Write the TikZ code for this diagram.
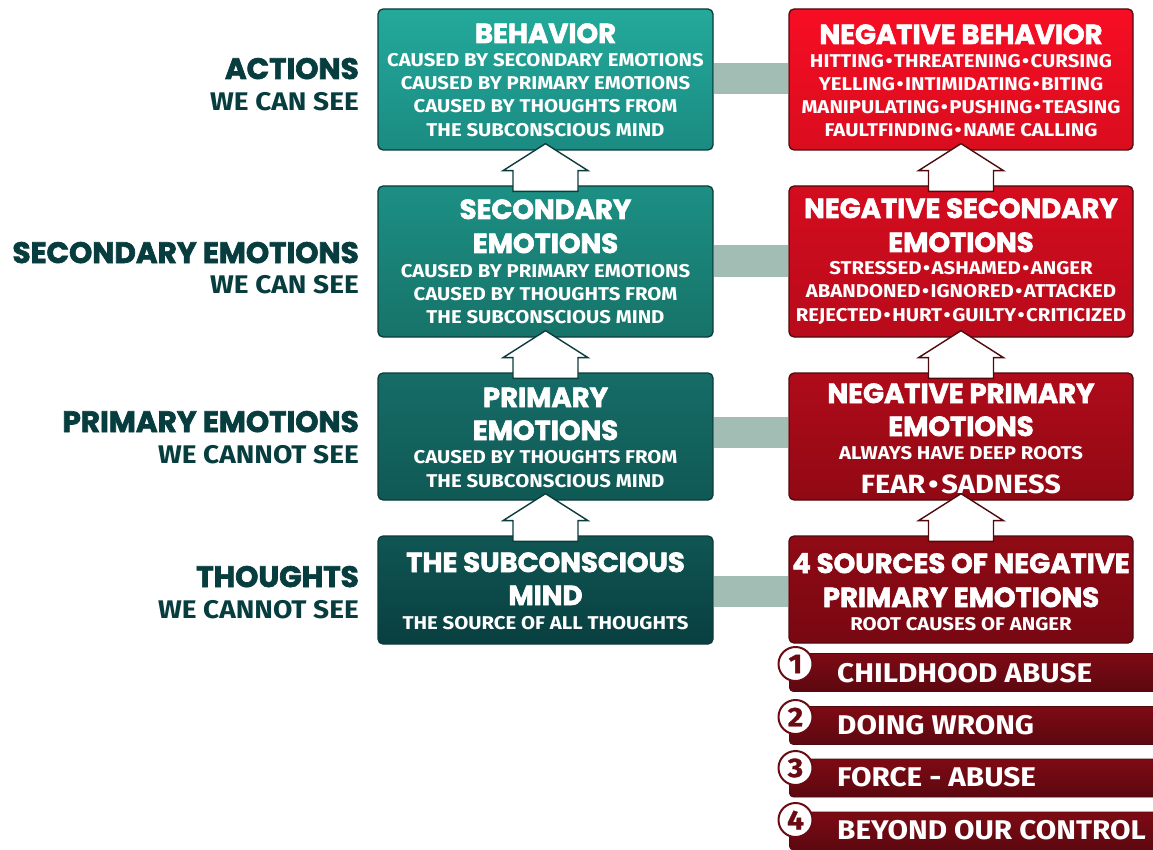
\documentclass[tikz,border=0pt]{standalone}
\usepackage{fontspec}
\usetikzlibrary{calc}
\newfontfamily\heavy{Poppins}[FakeBold=2.3]
\newfontfamily\subf{Fira Sans}[FakeStretch=1.1]
\newfontfamily\numf{Fira Sans}[FakeStretch=1.1, FakeBold=1.2]
\definecolor{labc}{HTML}{073D3E}
\definecolor{tborder}{HTML}{0B3B3C}
\definecolor{rborder}{HTML}{4F0A0E}
\definecolor{barc}{HTML}{A2BEB4}
\definecolor{numc}{HTML}{6A0A12}
\definecolor{lbt}{HTML}{7E0A14}
\definecolor{lbb}{HTML}{5C0810}
\tikzset{
  box/.style={rounded corners=5pt, line width=1.3pt, inner sep=0pt},
  tbox/.style={box, draw=tborder},
  rbox/.style={box, draw=rborder},
  ttl/.style={font=\heavy\bfseries\fontsize{27.5}{27.5}\selectfont, text=white, anchor=base, inner sep=0pt},
  sub/.style={font=\subf\bfseries\fontsize{18.5}{18.5}\selectfont, text=white, anchor=base, inner sep=0pt},
  lblH/.style={font=\heavy\bfseries\fontsize{29.5}{29.5}\selectfont, text=labc, anchor=base east, inner sep=0pt},
  lblS/.style={font=\subf\bfseries\fontsize{25.5}{25.5}\selectfont, text=labc, anchor=base east, inner sep=0pt},
  link/.style={draw=barc, line width=31pt},
  itembar/.style={rounded corners=4pt, draw=rborder, line width=0.8pt, top color=lbt, bottom color=lbb, minimum height=38pt, minimum width=372pt, anchor=west, inner sep=0pt},
  itemtxt/.style={font=\subf\bfseries\fontsize{27}{27}\selectfont, text=white, anchor=base west, inner sep=0pt},
  numcirc/.style={circle, fill=white, draw=numc, line width=2pt, minimum size=34pt, inner sep=0pt, font=\numf\bfseries\fontsize{27}{27}\selectfont, text=numc},
}
\newcommand\bul{\hspace{1.5pt}\textbullet\hspace{1.5pt}}
\newcommand\uparr[3]{%
  \draw[draw=#3, line width=1.4pt, fill=white, line join=miter]
   ($(#1.south)+(0,-7)$) -- ($(#1.south)+(42.5,20)$) -- ($(#1.south)+(32.5,20)$)
   -- ($(#2.north)+(32.5,6)$) -- ($(#2.north)+(-32.5,6)$)
   -- ($(#1.south)+(-32.5,20)$) -- ($(#1.south)+(-42.5,20)$) -- cycle;}
\begin{document}
\begin{tikzpicture}[x=1pt, y=-1pt]
\useasboundingbox[fill=white] (0,0) rectangle (1153,850);

% left column boxes
\node[tbox, top color={rgb,255:red,35;green,169;blue,154}, bottom color={rgb,255:red,27;green,139;blue,130}, minimum width=335pt, minimum height=141pt] (beh) at (545.5,79.5) {};
\node[tbox, top color={rgb,255:red,28;green,143;blue,132}, bottom color={rgb,255:red,23;green,115;blue,105}, minimum width=335pt, minimum height=151pt] (sec) at (545.5,261.5) {};
\node[tbox, top color={rgb,255:red,22;green,108;blue,103}, bottom color={rgb,255:red,16;green,89;blue,85}, minimum width=335pt, minimum height=127pt] (pri) at (545.5,436.5) {};
\node[tbox, top color={rgb,255:red,15;green,86;blue,83}, bottom color={rgb,255:red,9;green,63;blue,64}, minimum width=335pt, minimum height=108pt] (scm) at (545.5,590) {};

% right column boxes
\node[rbox, top color={rgb,255:red,247;green,13;blue,36}, bottom color={rgb,255:red,217;green,13;blue,30}, minimum width=344pt, minimum height=141pt] (nbeh) at (961,79.5) {};
\node[rbox, top color={rgb,255:red,212;green,12;blue,30}, bottom color={rgb,255:red,184;green,11;blue,27}, minimum width=344pt, minimum height=151pt] (nsec) at (961,261.5) {};
\node[rbox, top color={rgb,255:red,176;green,11;blue,26}, bottom color={rgb,255:red,144;green,9;blue,20}, minimum width=344pt, minimum height=127pt] (npri) at (961,436.5) {};
\node[rbox, top color={rgb,255:red,144;green,10;blue,21}, bottom color={rgb,255:red,120;green,8;blue,18}, minimum width=344pt, minimum height=107pt] (src) at (961,589.5) {};

% connectors
\draw[link] (beh.east |- 0,78.5) -- (nbeh.west |- 0,78.5);
\draw[link] (sec.east |- 0,261) -- (nsec.west |- 0,261);
\draw[link] (pri.east |- 0,432) -- (npri.west |- 0,432);
\draw[link] (scm.east |- 0,591) -- (src.west |- 0,591);

% arrows
\uparr{beh}{sec}{tborder}
\uparr{sec}{pri}{tborder}
\uparr{pri}{scm}{tborder}
\uparr{nbeh}{nsec}{rborder}
\uparr{nsec}{npri}{rborder}
\uparr{npri}{src}{rborder}

% left box texts
\node[ttl] (behT) at (545.5,43) {BEHAVIOR};
\node[sub] (behS1) at (545.5,67) {CAUSED BY SECONDARY EMOTIONS};
\node[sub] (behS2) at (545.5,90) {CAUSED BY PRIMARY EMOTIONS};
\node[sub] (behS3) at (545.5,113) {CAUSED BY THOUGHTS FROM};
\node[sub] (behS4) at (545.5,136.5) {THE SUBCONSCIOUS MIND};

\node[ttl] (secT1) at (545.5,219) {SECONDARY};
\node[ttl] (secT2) at (545.5,253) {EMOTIONS};
\node[sub] (secS1) at (545.5,277) {CAUSED BY PRIMARY EMOTIONS};
\node[sub] (secS2) at (545.5,300) {CAUSED BY THOUGHTS FROM};
\node[sub] (secS3) at (545.5,323) {THE SUBCONSCIOUS MIND};

\node[ttl] (priT1) at (545.5,407) {PRIMARY};
\node[ttl] (priT2) at (545.5,440) {EMOTIONS};
\node[sub] (priS1) at (545.5,463.5) {CAUSED BY THOUGHTS FROM};
\node[sub] (priS2) at (545.5,487) {THE SUBCONSCIOUS MIND};

\node[ttl] (scmT1) at (545.5,572) {THE SUBCONSCIOUS};
\node[ttl] (scmT2) at (545.5,605) {MIND};
\node[sub] (scmS1) at (545.5,629) {THE SOURCE OF ALL THOUGHTS};

% right box texts
\node[ttl] (nbehT) at (961,44) {NEGATIVE BEHAVIOR};
\node[sub] (nbehS1) at (961,68) {HITTING\bul THREATENING\bul CURSING};
\node[sub] (nbehS2) at (961,91) {YELLING\bul INTIMIDATING\bul BITING};
\node[sub] (nbehS3) at (961,114) {MANIPULATING\bul PUSHING\bul TEASING};
\node[sub] (nbehS4) at (961,137) {FAULTFINDING\bul NAME CALLING};

\node[ttl] (nsecT1) at (961,218) {NEGATIVE SECONDARY};
\node[ttl] (nsecT2) at (961,252) {EMOTIONS};
\node[sub] (nsecS1) at (961,275) {STRESSED\bul ASHAMED\bul ANGER};
\node[sub] (nsecS2) at (961,298) {ABANDONED\bul IGNORED\bul ATTACKED};
\node[sub] (nsecS3) at (961,321) {REJECTED\bul HURT\bul GUILTY\bul CRITICIZED};

\node[ttl] (npriT1) at (961,403) {NEGATIVE PRIMARY};
\node[ttl] (npriT2) at (961,436) {EMOTIONS};
\node[sub] (npriS1) at (961,459) {ALWAYS HAVE DEEP ROOTS};
\node[sub, font=\subf\bfseries\fontsize{26.4}{26.4}\selectfont] (npriS2) at (961,493) {FEAR\hspace{3pt}\textbullet\hspace{3pt}SADNESS};

\node[ttl] (srcT1) at (961,573) {4 SOURCES OF NEGATIVE};
\node[ttl] (srcT2) at (961,607) {PRIMARY EMOTIONS};
\node[sub] (srcS1) at (961,630) {ROOT CAUSES OF ANGER};

% list items
\node[itembar] (it1) at (789,672.5) {};
\node[itembar] (it2) at (789,725.5) {};
\node[itembar] (it3) at (789,778) {};
\node[itembar] (it4) at (789,831) {};
\node[itemtxt] (it1t) at (837,682) {CHILDHOOD ABUSE};
\node[itemtxt] (it2t) at (837,734) {DOING WRONG};
\node[itemtxt] (it3t) at (837,786) {FORCE - ABUSE};
\node[itemtxt] (it4t) at (837,839) {BEYOND OUR CONTROL};
\node[numcirc] (n1) at (795.5,664) {1};
\node[numcirc] (n2) at (795.5,717) {2};
\node[numcirc] (n3) at (795.5,768) {3};
\node[numcirc] (n4) at (795.5,820) {4};

% left labels
\node[lblH] (la1) at (359,79) {ACTIONS};
\node[lblS] (la2) at (359,111) {WE CAN SEE};
\node[lblH] (lb1) at (359,263) {SECONDARY EMOTIONS};
\node[lblS] (lb2) at (359,293) {WE CAN SEE};
\node[lblH] (lc1) at (359,432) {PRIMARY EMOTIONS};
\node[lblS] (lc2) at (359,463) {WE CANNOT SEE};
\node[lblH] (ld1) at (359,587) {THOUGHTS};
\node[lblS] (ld2) at (359,618) {WE CANNOT SEE};
\end{tikzpicture}
\end{document}
